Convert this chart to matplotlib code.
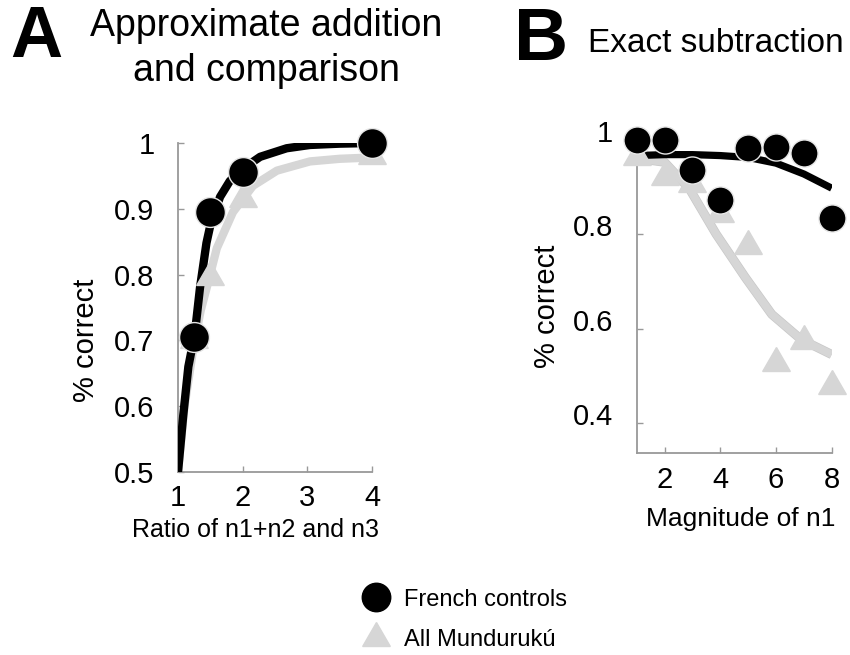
import matplotlib
matplotlib.use("Agg")
import matplotlib.pyplot as plt
import matplotlib.patheffects as pe
from matplotlib.lines import Line2D
from matplotlib.transforms import ScaledTranslation

plt.rcParams['font.family'] = ['Liberation Sans', 'DejaVu Sans']

# panel A: approximate addition and comparison
ratio = [1.25, 1.5, 2.0, 4.0]
french_a = [0.705, 0.895, 0.956, 1.0]
munduruku_a = [0.70, 0.796, 0.915, 0.98]

# fitted curves, panel A
fit_a_x_fr = [1.0, 1.08, 1.16, 1.26, 1.34, 1.44, 1.5, 1.65, 1.8, 1.96, 2.27, 2.68, 3.04, 3.5, 4.0]
fit_a_y_fr = [0.5, 0.585, 0.66, 0.71, 0.78, 0.848, 0.875, 0.918, 0.942, 0.958, 0.979, 0.992, 0.997, 0.999, 1.0]
fit_a_x_mu = [1.0, 1.1, 1.24, 1.35, 1.47, 1.6, 1.85, 2.16, 2.53, 3.04, 3.5, 4.0]
fit_a_y_mu = [0.5, 0.6, 0.69, 0.745, 0.79, 0.84, 0.895, 0.935, 0.958, 0.972, 0.976, 0.978]

# panel B: exact subtraction
magnitude = [1, 2, 3, 4, 5, 6, 7, 8]
french_b = [0.998, 0.998, 0.935, 0.873, 0.981, 0.985, 0.971, 0.833]
munduruku_b = [0.963, 0.921, 0.906, 0.843, 0.775, 0.528, 0.573, 0.478]

fit_b_y_fr = [0.966, 0.968, 0.968, 0.966, 0.962, 0.950, 0.927, 0.897]
fit_b_x_mu = [1, 2, 2.9, 3.85, 4.9, 5.85, 6.9, 8]
fit_b_y_mu = [0.96, 0.952, 0.895, 0.80, 0.708, 0.63, 0.577, 0.545]

BLACK = 'black'
GREY = '#d6d6d6'
AXC = '#999999'
TRI = (3, 0, 0)

fig = plt.figure(figsize=(8.5, 6.55), dpi=100)
axA = fig.add_axes([178/850, 1-472/655, 194/850, 329/655])
axB = fig.add_axes([636.7/850, 1-453.3/655, 195/850, 313.8/655])


def style(ax):
    for s in ['top', 'right']:
        ax.spines[s].set_visible(False)
    for s in ['left', 'bottom']:
        ax.spines[s].set_color(AXC)
        ax.spines[s].set_linewidth(1.3)
    ax.tick_params(direction='in', length=4, width=1, color=AXC,
                   labelsize=21, pad=9)
    ax.tick_params(axis='y', pad=17)


grey_edge = [pe.Stroke(linewidth=6.6, foreground='#c8c8c8'), pe.Normal()]

# panel A
axA.plot(fit_a_x_mu, fit_a_y_mu, color=GREY, lw=6, solid_capstyle='butt', zorder=2)
axA.plot(fit_a_x_fr, fit_a_y_fr, color=BLACK, lw=6, solid_capstyle='butt', zorder=3)
axA.plot(ratio, munduruku_a, ls='none', marker=TRI, ms=23, color=GREY, clip_on=False, zorder=4)
axA.plot(ratio, french_a, ls='none', marker='o', ms=21.5, mfc=BLACK, mec='#e6e6e6',
         mew=1, clip_on=False, zorder=5)
axA.set_xlim(1, 4)
axA.set_ylim(0.5, 1.0)
axA.set_xticks([1, 2, 3, 4])
axA.set_yticks([0.5, 0.6, 0.7, 0.8, 0.9, 1.0])
axA.set_yticklabels(['0.5', '0.6', '0.7', '0.8', '0.9', '1'])
style(axA)
axA.set_ylabel('% correct', fontsize=21)
axA.yaxis.set_label_coords(-0.40, 0.40)
axA.set_xlabel('Ratio of n1+n2 and n3', fontsize=18)
axA.xaxis.set_label_coords(0.40, -0.14)

# panel B
axB.plot(fit_b_x_mu, fit_b_y_mu, color=GREY, lw=5.6, solid_capstyle='butt', zorder=2,
         path_effects=grey_edge)
axB.plot(magnitude, fit_b_y_fr, color=BLACK, lw=5.2, solid_capstyle='butt', zorder=3)
axB.plot(magnitude, munduruku_b, ls='none', marker=TRI, ms=23, color=GREY, clip_on=False, zorder=4)
axB.plot(magnitude, french_b, ls='none', marker='o', ms=19.5, mfc=BLACK, mec='#e6e6e6',
         mew=1, clip_on=False, zorder=5)
axB.set_xlim(1, 8)
axB.set_ylim(0.336, 1.0)
axB.set_xticks([2, 4, 6, 8])
axB.set_yticks([0.4, 0.6, 0.8, 1.0])
axB.set_yticklabels(['0.4', '0.6', '0.8', '1'])
style(axB)
axB.spines['left'].set_bounds(0.336, 0.955)
# y labels of this panel sit a little above their ticks
lift = ScaledTranslation(0, 9/100, fig.dpi_scale_trans)
for lab in axB.get_yticklabels():
    lab.set_transform(lab.get_transform() + lift)
axB.set_ylabel('% correct', fontsize=21)
axB.yaxis.set_label_coords(-0.39, 0.47)
axB.set_xlabel('Magnitude of n1', fontsize=19)
axB.xaxis.set_label_coords(0.535, -0.17)

# panel letters and titles
fig.text(10/850, 1-38/655, 'A', fontsize=52, fontweight='bold', va='center', ha='left')
fig.text(266/850, 1-26/655, 'Approximate addition', fontsize=27, ha='center', va='center')
fig.text(266/850, 1-71/655, 'and comparison', fontsize=27, ha='center', va='center')
fig.text(514/850, 1-41/655, 'B', fontsize=54, fontweight='bold', va='center', ha='left')
fig.text(716/850, 1-44/655, 'Exact subtraction', fontsize=24, ha='center', va='center')

handles = [
    Line2D([], [], ls='none', marker='o', ms=20.5, color=BLACK),
    Line2D([], [], ls='none', marker=TRI, ms=23, color=GREY),
]
fig.legend(handles, ['French controls', 'All Mundurukú'], loc='center left',
           bbox_to_anchor=(346/850, 1-620/655), frameon=False, fontsize=17,
           handletextpad=0.45, labelspacing=0.8, borderpad=0, handlelength=1.5)

fig.savefig('out.png', dpi=100)
